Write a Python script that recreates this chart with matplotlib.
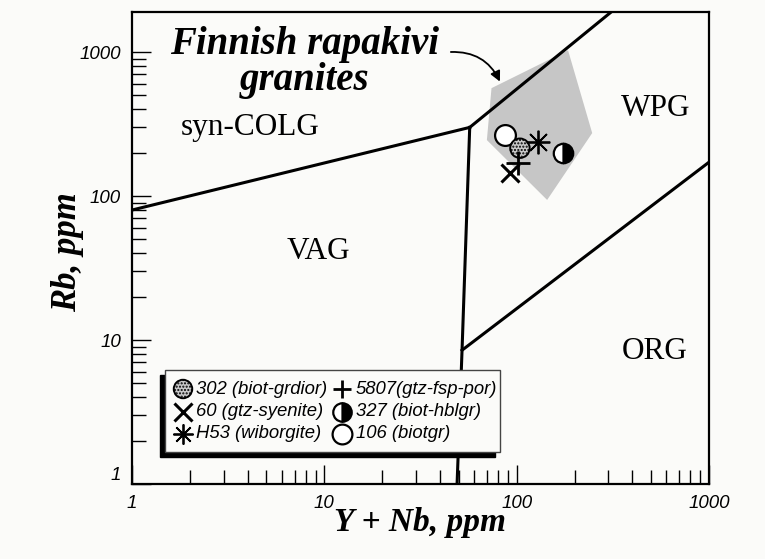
import matplotlib
matplotlib.use('Agg')
import matplotlib.pyplot as plt
from matplotlib.patches import Rectangle, FancyArrowPatch
from matplotlib.ticker import LogLocator, NullFormatter, FixedLocator, FixedFormatter

W, H = 765, 559

# limites dos campos (Pearce et al.), em ppm
colg_vag_x = [1, 57]
colg_vag_y = [80, 300]
wpg_colg_x = [57, 310]
wpg_colg_y = [300, 1900]
vag_wpg_x = [57, 52, 49]
vag_wpg_y = [300, 8.5, 1]
org_wpg_x = [52, 1000]
org_wpg_y = [8.5, 172]

# campo dos granitos rapakivi finlandeses
campo_x = [74, 185, 247, 144, 70]
campo_y = [562, 1030, 274, 94, 245]

# amostras
amostras = ['302 (biot-grdior)', '5807(gtz-fsp-por)', '60 (gtz-syenite)',
            '327 (biot-hblgr)', 'H53 (wiborgite)', '106 (biotgr)']
y_nb = [104, 102, 92, 174, 129, 87]
rb = [215, 170, 145, 199, 237, 265]

campos = ['syn-COLG', 'VAG', 'WPG', 'ORG']
campos_x = [4.1, 9.3, 525, 525]
campos_y = [300, 41, 408, 8.3]

xticks = [1, 10, 100, 1000]
yticks = [1, 10, 100, 1000]

SERIF = ['Liberation Serif', 'DejaVu Serif']
SANS = ['Liberation Sans', 'DejaVu Sans']
NARROW = ['Liberation Sans Narrow', 'Liberation Sans', 'DejaVu Sans']
FUNDO = '#fbfbf9'

plt.rcParams['hatch.linewidth'] = 1.0

# tamanho em pontos (1 pt = 1.39 px); 'leg' = escala na legenda
ESTILO = {
    '302 (biot-grdior)': dict(marker='o', s=14, hatch='.....', fc='#c8c8c8', z=5, leg=0.95),
    '5807(gtz-fsp-por)': dict(marker='+', s=17, mew=2.0, z=7, leg=0.8),
    '60 (gtz-syenite)': dict(marker='x', s=13, mew=2.2, z=6, leg=0.95),
    '327 (biot-hblgr)': dict(marker='o', s=14, fill='right', z=5, leg=0.95),
    'H53 (wiborgite)': dict(marker=(8, 2, 0), s=17, mew=1.3, z=5, leg=0.85),
    '106 (biotgr)': dict(marker='o', s=15, z=4, leg=0.95),
}


def desenha(ax, nome, x, y, esc=1.0, z=None):
    e = ESTILO[nome]
    zo = e['z'] if z is None else z
    ms = e['s'] * esc
    if 'hatch' in e:
        ax.scatter([x], [y], s=ms ** 2, marker='o', facecolor=e['fc'],
                   edgecolor='black', hatch=e['hatch'], linewidths=1.4,
                   zorder=zo)
    elif 'fill' in e:
        ax.plot([x], [y], marker='o', ms=ms, mfc='black', mfcalt='white',
                fillstyle=e['fill'], mec='black', mew=1.6, ls='none', zorder=zo)
    elif e['marker'] == 'o':
        ax.plot([x], [y], marker='o', ms=ms, mfc='white', mec='black',
                mew=1.6, ls='none', zorder=zo)
    else:
        ax.plot([x], [y], marker=e['marker'], ms=ms, mec='black',
                mew=e['mew'], ls='none', zorder=zo)


def fig_px(x, y):
    return x / W, 1 - y / H


fig = plt.figure(figsize=(W / 100, H / 100), dpi=100, facecolor=FUNDO)
ax = fig.add_axes([132 / W, 1 - 484 / H, (709 - 132) / W, (484 - 12) / H])
ax.set_facecolor(FUNDO)
ax.set_xscale('log')
ax.set_yscale('log')
ax.set_xlim(1, 1000)
ax.set_ylim(1, 1900)

for s in ax.spines.values():
    s.set_linewidth(1.6)

ax.xaxis.set_major_locator(FixedLocator(xticks))
ax.xaxis.set_major_formatter(FixedFormatter([str(v) for v in xticks]))
ax.yaxis.set_major_locator(FixedLocator(yticks))
ax.yaxis.set_major_formatter(FixedFormatter([str(v) for v in yticks]))
ax.xaxis.set_minor_locator(LogLocator(base=10, subs=range(2, 10)))
ax.yaxis.set_minor_locator(LogLocator(base=10, subs=range(2, 10)))
ax.xaxis.set_minor_formatter(NullFormatter())
ax.yaxis.set_minor_formatter(NullFormatter())
ax.tick_params(which='major', direction='in', length=14, width=1.0, pad=8)
ax.tick_params(which='minor', direction='in', length=10, width=1.0)
for lab in ax.get_xticklabels() + ax.get_yticklabels():
    lab.set_fontfamily(SANS)
    lab.set_fontstyle('italic')
    lab.set_fontsize(13.5)
# o "1" do eixo y fica um pouco acima do canto
ax.get_yticklabels()[0].set_va('bottom')

# campo sombreado
ax.fill(campo_x, campo_y, color='#c6c6c6', lw=0, zorder=1)

# limites
for xs, ys in [(colg_vag_x, colg_vag_y), (wpg_colg_x, wpg_colg_y),
               (vag_wpg_x, vag_wpg_y), (org_wpg_x, org_wpg_y)]:
    ax.plot(xs, ys, color='black', lw=2.2, solid_joinstyle='miter', zorder=2)

for nome, x, y in zip(campos, campos_x, campos_y):
    ax.text(x, y, nome, fontfamily=SERIF, fontsize=22.5, ha='center', va='center')

ax.text(7.9, 850, 'Finnish rapakivi\ngranites', fontfamily=SERIF, fontsize=28,
        fontweight='bold', fontstyle='italic', ha='center', va='center',
        linespacing=0.95)
ax.add_patch(FancyArrowPatch((44, 1000), (83, 600),
                             connectionstyle='arc3,rad=-0.35',
                             arrowstyle='-|>,head_length=6,head_width=3',
                             color='black', lw=1.3, zorder=3))

for nome, x, y in zip(amostras, y_nb, rb):
    desenha(ax, nome, x, y)

ax.set_xlabel('Y + Nb, ppm', fontfamily=SERIF, fontsize=24, fontweight='bold',
              fontstyle='italic')
ax.xaxis.set_label_coords((420 - 132) / 577, (484 - 507) / 472)
ax.set_ylabel('Rb, ppm', fontfamily=SERIF, fontsize=25, fontweight='bold',
              fontstyle='italic')
ax.yaxis.set_label_coords((84 - 132) / 577, (484 - 252) / 472)

# legenda manual com sombra para baixo/esquerda
x0, y0 = fig_px(165, 452)
x1, y1 = fig_px(500, 370)
fig.patches.append(Rectangle((x0 - 5 / W, y0 - 5 / H), x1 - x0, y1 - y0,
                             transform=fig.transFigure, facecolor='black',
                             edgecolor='black', zorder=8))
fig.patches.append(Rectangle((x0, y0), x1 - x0, y1 - y0,
                             transform=fig.transFigure, facecolor=FUNDO,
                             edgecolor='#444444', lw=1.0, zorder=9))
linhas_y = [389, 412, 434]
col_marker = [183, 342]
col_texto = [196, 356]

lax = fig.add_axes([0, 0, 1, 1], zorder=10)
lax.set_xlim(0, 1)
lax.set_ylim(0, 1)
lax.axis('off')
for i, nome in enumerate(amostras):
    lin, col = divmod(i, 2)
    mx, my = fig_px(col_marker[col], linhas_y[lin])
    desenha(lax, nome, mx, my, esc=ESTILO[nome]['leg'], z=10)
    tx, ty = fig_px(col_texto[col], linhas_y[lin])
    lax.text(tx, ty, nome, fontfamily=NARROW, fontstyle='italic', fontsize=13.3,
             ha='left', va='center', zorder=10)

fig.savefig('out.png', dpi=100, facecolor=fig.get_facecolor())
